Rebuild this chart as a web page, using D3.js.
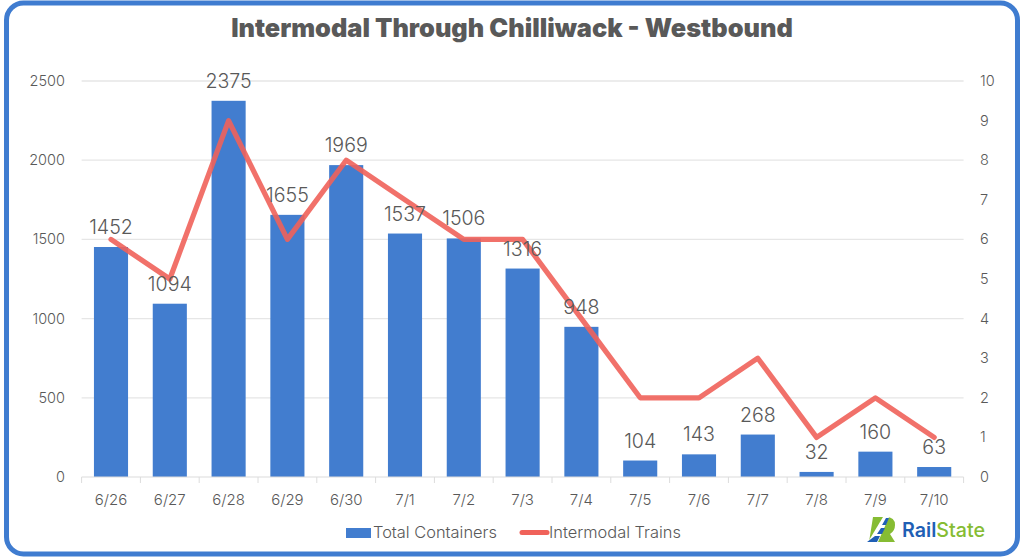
<!DOCTYPE html>
<html><head><meta charset="utf-8">
<script src="https://cdn.jsdelivr.net/npm/d3@7"></script>
<style>html,body{margin:0;padding:0;background:#fff}svg{display:block}text{font-family:Inter,"Open Sans",sans-serif}</style>
</head><body><svg id="c" width="1024" height="559"></svg>
<script>
const categories=["6/26","6/27","6/28","6/29","6/30","7/1","7/2","7/3","7/4","7/5","7/6","7/7","7/8","7/9","7/10"];
const totalContainers=[1452,1094,2375,1655,1969,1537,1506,1316,948,104,143,268,32,160,63];
const intermodalTrains=[6,5,9,6,8,7,6,6,4,2,2,3,1,2,1];
const leftTicks=[0,500,1000,1500,2000,2500];
const rightTicks=[0,1,2,3,4,5,6,7,8,9,10];
const titleText="Intermodal Through Chilliwack - Westbound";
const seriesNames=["Total Containers","Intermodal Trains"];

const svg=d3.select("#c");
const grey="#595959",blue="#427dcf",red="#f0625a";
svg.append("rect").attr("x",6.5).attr("y",3).attr("width",1011).attr("height",551).attr("rx",17)
  .attr("fill","#fff").attr("stroke","#3f7cd0").attr("stroke-width",5);
const x=d3.scaleBand().domain(categories).range([81.6,963.6]).paddingInner(0.42).paddingOuter(0.21);
const y=d3.scaleLinear().domain([0,2500]).range([477,81]);
const y2=d3.scaleLinear().domain([0,10]).range([477,81]);
const cx=d=>x(d)+x.bandwidth()/2;

svg.append("g").selectAll("line").data(leftTicks.filter(d=>d>0)).join("line")
  .attr("x1",81.6).attr("x2",963.6).attr("y1",d=>y(d)).attr("y2",d=>y(d))
  .attr("stroke","#e6e6e6").attr("stroke-width",1.3);

svg.append("g").selectAll("rect").data(totalContainers).join("rect")
  .attr("x",(d,i)=>x(categories[i])).attr("width",x.bandwidth())
  .attr("y",d=>y(d)).attr("height",d=>y(0)-y(d)).attr("fill",blue);

const bx=d3.scaleBand().domain(categories).range([81.6,963.6]);
const base=svg.append("g");
base.append("line").attr("x1",81.6).attr("x2",963.6).attr("y1",477).attr("y2",477).attr("stroke","#dcdcdc").attr("stroke-width",1.2);
base.selectAll("line.t").data(d3.range(categories.length+1)).join("line").attr("class","t")
  .attr("x1",i=>81.6+i*bx.step()).attr("x2",i=>81.6+i*bx.step()).attr("y1",477).attr("y2",483)
  .attr("stroke","#dcdcdc").attr("stroke-width",1);

svg.append("path").datum(intermodalTrains)
  .attr("d",d3.line().x((d,i)=>cx(categories[i])).y(d=>y2(d)))
  .attr("fill","none").attr("stroke",red).attr("stroke-opacity",.9).attr("stroke-width",5.2).attr("stroke-linejoin","round").attr("stroke-linecap","round");

svg.append("g").selectAll("text").data(totalContainers).join("text")
  .attr("x",(d,i)=>cx(categories[i])).attr("y",d=>y(d)-13)
  .attr("text-anchor","middle").attr("font-size",19.6).attr("font-weight",300).attr("fill",grey).text(d=>d);

const ax=(v,xp,anchor,sc)=>svg.append("text").attr("x",xp).attr("y",sc(v)+5).attr("text-anchor",anchor).attr("font-size",14.5).attr("font-weight",300).attr("fill",grey).text(v);
leftTicks.forEach(v=>ax(v,65,"end",y));
rightTicks.forEach(v=>ax(v,980,"start",y2));
svg.append("g").selectAll("text").data(categories).join("text")
  .attr("x",d=>cx(d)).attr("y",505).attr("text-anchor","middle").attr("font-size",15).attr("font-weight",300).attr("fill",grey).text(d=>d);

svg.append("text").attr("x",512).attr("y",37).attr("text-anchor","middle").attr("font-size",25.35).attr("font-weight",900).attr("fill",grey).text(titleText);

svg.append("rect").attr("x",346).attr("y",528).attr("width",25).attr("height",10).attr("fill",blue);
svg.append("text").attr("x",373).attr("y",538).attr("font-size",16.4).attr("font-weight",300).attr("fill",grey).text(seriesNames[0]);
svg.append("line").attr("x1",522).attr("x2",547).attr("y1",532.5).attr("y2",532.5).attr("stroke",red).attr("stroke-width",5).attr("stroke-linecap","round");
svg.append("text").attr("x",549).attr("y",538).attr("font-size",16.4).attr("font-weight",300).attr("fill",grey).text(seriesNames[1]);

// logo
const logo=svg.append("g");
logo.append("path").attr("d","M873 517H886Q895 517 895 525Q895 531 890 534L895 542H869L873 517Z").attr("fill","#86bc33");
logo.append("path").attr("d","M883 517L889 517L878 542L868 542Z").attr("fill","#fff");
logo.append("path").attr("d","M886 518L889 518L886 525L882 525ZM881 528L885 528L882 534L877 534ZM875 536L880 536L877 542L867 542Z").attr("fill","#1f5fb5");
svg.append("text").attr("x",902).attr("y",537).attr("font-size",19.7).attr("font-weight",600).attr("fill","#1f5fb5").text("Rail")
  .append("tspan").attr("fill","#86bc33").attr("font-weight",500).text("State");
</script></body></html>
